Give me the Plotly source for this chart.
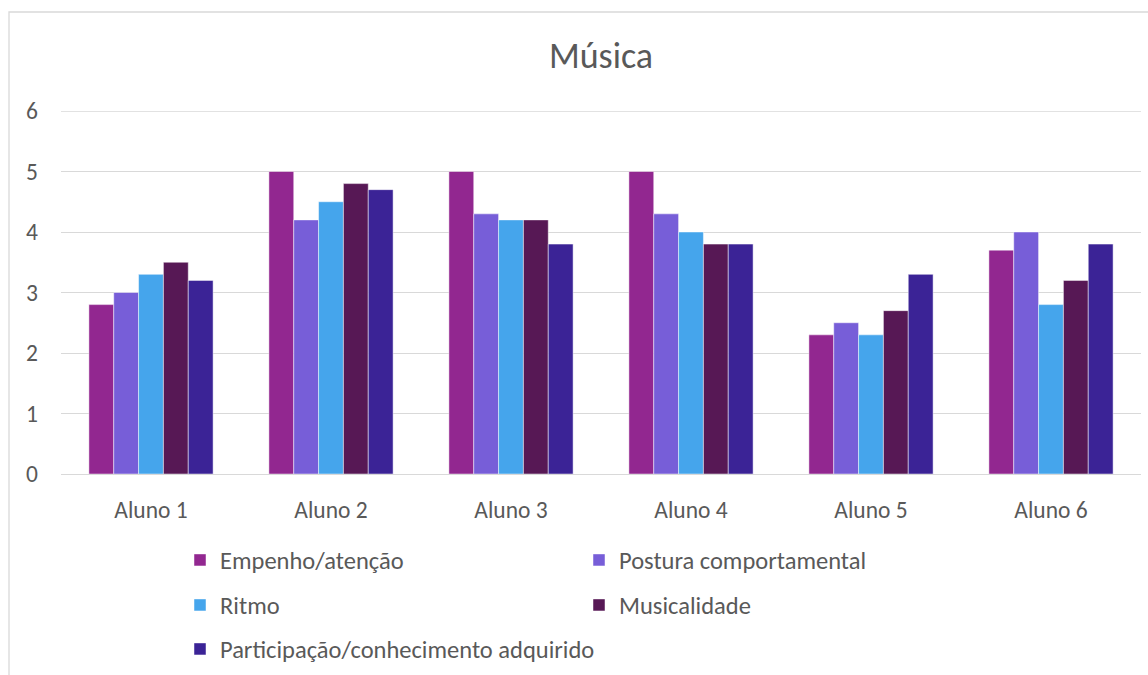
import plotly.graph_objects as go

categories = ["Aluno 1", "Aluno 2", "Aluno 3", "Aluno 4", "Aluno 5", "Aluno 6"]
series_names = ["Empenho/atenção", "Postura comportamental", "Ritmo", "Musicalidade",
                "Participação/conhecimento adquirido"]
empenho = [2.8, 5.0, 5.0, 5.0, 2.3, 3.7]
postura = [3.0, 4.2, 4.3, 4.3, 2.5, 4.0]
ritmo = [3.3, 4.5, 4.2, 4.0, 2.3, 2.8]
musicalidade = [3.5, 4.8, 4.2, 3.8, 2.7, 3.2]
participacao = [3.2, 4.7, 3.8, 3.8, 3.3, 3.8]
colors = ["#922790", "#775ED8", "#45A5EC", "#571855", "#3B2396"]
legend_ids = ["legend", "legend", "legend2", "legend2", "legend3"]

values = [empenho, postura, ritmo, musicalidade, participacao]

W, H = 1148, 675
L, R, T, B = 61, 7, 111, 201
pw, ph = W - L - R, H - T - B

fig = go.Figure()
for name, vals, col, lg in zip(series_names, values, colors, legend_ids):
    fig.add_trace(go.Bar(
        x=categories, y=vals, name=name, legend=lg,
        marker=dict(color=col, line=dict(color="rgba(255,255,255,0.6)", width=0.8)),
    ))

font = "Carlito, Lato, Calibri, sans-serif"
legend_common = dict(orientation="h", xref="container", yref="container",
                     xanchor="left", yanchor="middle",
                     entrywidthmode="pixels", font=dict(size=24.5, color="#595959", family=font),
                     bgcolor="rgba(0,0,0,0)", itemclick=False, itemdoubleclick=False)

fig.update_layout(
    width=W, height=H,
    margin=dict(l=L, r=R, t=T, b=B, autoexpand=False),
    paper_bgcolor="white", plot_bgcolor="white",
    font=dict(family=font, color="#595959"),
    title=dict(text="Música", x=0.5, xref="paper", xanchor="center",
               y=1 - 55 / H, yref="container", yanchor="middle",
               font=dict(size=36, color="#595959", family=font)),
    barmode="group", bargap=0.31, bargroupgap=0,
    xaxis=dict(showgrid=False, showline=False, ticks="", tickfont=dict(size=23.5, color="#595959"),
               ticklabelstandoff=19, automargin=False),
    yaxis=dict(range=[0, 6], dtick=1, showgrid=True, gridcolor="#D9D9D9", gridwidth=1.3,
               zeroline=True, zerolinecolor="#D9D9D9", zerolinewidth=1.3, showline=False,
               ticks="", tickfont=dict(size=23.5, color="#595959"), ticklabelstandoff=22,
               automargin=False),
    legend=dict(x=180 / W, y=1 - 560 / H, entrywidth=354, **legend_common),
    legend2=dict(x=180 / W, y=1 - 605 / H, entrywidth=354, **legend_common),
    legend3=dict(x=180 / W, y=1 - 649 / H, entrywidth=600, **legend_common),
    showlegend=True,
)

# top gridline at 6 (range edge)
fig.add_shape(type="line", xref="paper", yref="y", x0=0, x1=1, y0=6, y1=6,
              line=dict(color="#D9D9D9", width=1.3), layer="below")

# outer chart border
fig.add_shape(type="rect", xref="paper", yref="paper",
              x0=(9 - L) / pw, x1=(1160 - L) / pw,
              y0=(H - B - 690) / ph, y1=(H - B - 12) / ph,
              line=dict(color="#D9D9D9", width=1.3), fillcolor="rgba(0,0,0,0)", layer="below")

fig.write_html("out.html", config={"displayModeBar": False},
               post_script="document.body.style.margin='0px';")
